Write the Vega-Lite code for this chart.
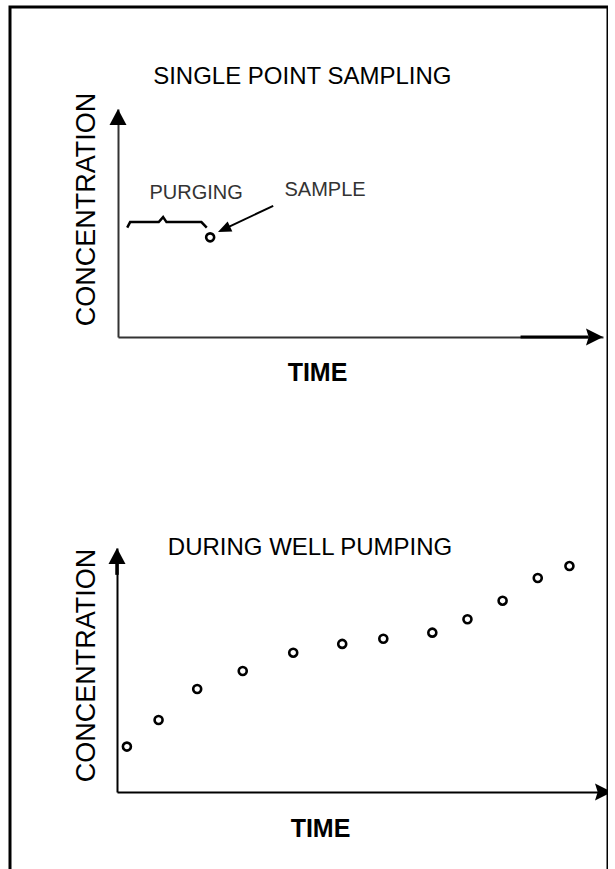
{
  "$schema": "https://vega.github.io/schema/vega-lite/v6.json",
  "width": 598,
  "height": 900,
  "padding": {"left": 10, "top": 7, "right": 0, "bottom": 0},
  "autosize": {"type": "none"},
  "background": "white",
  "config": {
    "view": {"stroke": "black", "strokeWidth": 3},
    "font": "Liberation Sans",
    "text": {"font": "Liberation Sans"}
  },
  "datasets": {
    "one": [{}],
    "sample": [{"time": 1.9, "conc": 4.37}],
    "pumping": [
      {"time": 0.2, "conc": 1.86},
      {"time": 0.84, "conc": 2.95},
      {"time": 1.62, "conc": 4.22},
      {"time": 2.54, "conc": 4.96},
      {"time": 3.56, "conc": 5.71},
      {"time": 4.55, "conc": 6.07},
      {"time": 5.38, "conc": 6.28},
      {"time": 6.37, "conc": 6.53},
      {"time": 7.08, "conc": 7.08},
      {"time": 7.79, "conc": 7.84},
      {"time": 8.5, "conc": 8.77},
      {"time": 9.14, "conc": 9.26}
    ],
    "brace": [
      {"i": 0, "time": 0.19, "conc": 4.8},
      {"i": 1, "time": 0.25, "conc": 5.04},
      {"i": 2, "time": 0.84, "conc": 5.04},
      {"i": 3, "time": 0.93, "conc": 5.26},
      {"i": 4, "time": 1.0, "conc": 5.04},
      {"i": 5, "time": 1.72, "conc": 5.04},
      {"i": 6, "time": 1.83, "conc": 4.8}
    ]
  },
  "layer": [
    {
      "layer": [
        {
          "data": {"name": "sample"},
          "mark": {"type": "point", "shape": "circle", "filled": false, "stroke": "black", "strokeWidth": 2.6, "size": 64, "opacity": 1},
          "encoding": {
            "x": {"field": "time", "type": "quantitative",
              "scale": {"domain": [0, 10], "range": [108, 593], "zero": false, "nice": false},
              "axis": {"orient": "bottom", "offset": -570, "domain": true, "domainColor": "#333", "domainWidth": 2, "ticks": false, "labels": false, "grid": false,
                "title": "TIME", "titleFont": "Liberation Sans", "titleFontSize": 25, "titleFontWeight": "bold", "titleColor": "black",
                "titleX": 307, "titleY": 35, "titleAlign": "center", "titleBaseline": "middle"}},
            "y": {"field": "conc", "type": "quantitative",
              "scale": {"domain": [0, 10], "range": [330, 102], "zero": false, "nice": false},
              "axis": {"orient": "left", "offset": -108, "domain": true, "domainColor": "#333", "domainWidth": 2, "ticks": false, "labels": false, "grid": false,
                "title": "CONCENTRATION", "titleFont": "Liberation Sans", "titleFontSize": 27, "titleFontWeight": "normal", "titleColor": "black",
                "titleAngle": -90, "titleX": -32, "titleY": 202, "titleAlign": "center", "titleBaseline": "middle"}}
          }
        },
        {
          "data": {"name": "brace"},
          "mark": {"type": "line", "color": "black", "strokeWidth": 2.5, "interpolate": "linear"},
          "encoding": {
            "x": {"field": "time", "type": "quantitative"},
            "y": {"field": "conc", "type": "quantitative"},
            "order": {"field": "i", "type": "quantitative"}
          }
        },
        {
          "data": {"name": "one"},
          "mark": {"type": "rule", "color": "black", "strokeWidth": 2},
          "encoding": {
            "x": {"datum": 3.2, "type": "quantitative"},
            "y": {"datum": 5.75, "type": "quantitative"},
            "x2": {"datum": 2.25},
            "y2": {"datum": 4.8}
          }
        },
        {
          "data": {"name": "one"},
          "mark": {"type": "point", "shape": "M0,0L-0.75,1.8L0.75,1.8Z", "filled": true, "color": "black", "size": 220, "angle": 245, "opacity": 1, "strokeWidth": 0},
          "encoding": {
            "x": {"datum": 2.06, "type": "quantitative"},
            "y": {"datum": 4.6, "type": "quantitative"}
          }
        },
        {
          "data": {"name": "one"},
          "mark": {"type": "rule", "color": "black", "strokeWidth": 3},
          "encoding": {
            "x": {"datum": 8.3, "type": "quantitative"},
            "x2": {"datum": 9.7},
            "y": {"datum": 0, "type": "quantitative"}
          }
        },
        {
          "data": {"name": "one"},
          "mark": {"type": "point", "shape": "M0,0L-0.95,1.8L0.95,1.8Z", "filled": true, "color": "black", "size": 320, "angle": 0, "opacity": 1, "strokeWidth": 0},
          "encoding": {
            "x": {"datum": 0, "type": "quantitative"},
            "y": {"datum": 10, "type": "quantitative"}
          }
        },
        {
          "data": {"name": "one"},
          "mark": {"type": "point", "shape": "M0,0L-0.95,1.9L0,1.6L0.95,1.9Z", "filled": true, "color": "black", "size": 320, "angle": 90, "opacity": 1, "strokeWidth": 0},
          "encoding": {
            "x": {"datum": 10, "type": "quantitative"},
            "y": {"datum": 0, "type": "quantitative"}
          }
        },
        {
          "data": {"name": "one"},
          "mark": {"type": "text", "text": "SINGLE POINT SAMPLING", "fontSize": 24, "color": "black", "align": "center", "baseline": "middle"},
          "encoding": {
            "x": {"datum": 3.8, "type": "quantitative"},
            "y": {"datum": 11.4, "type": "quantitative"}
          }
        },
        {
          "data": {"name": "one"},
          "mark": {"type": "text", "text": "PURGING", "fontSize": 20, "color": "#333", "align": "center", "baseline": "middle"},
          "encoding": {
            "x": {"datum": 1.61, "type": "quantitative"},
            "y": {"datum": 6.32, "type": "quantitative"}
          }
        },
        {
          "data": {"name": "one"},
          "mark": {"type": "text", "text": "SAMPLE", "fontSize": 20, "color": "#333", "align": "center", "baseline": "middle"},
          "encoding": {
            "x": {"datum": 4.27, "type": "quantitative"},
            "y": {"datum": 6.45, "type": "quantitative"}
          }
        }
      ]
    },
    {
      "layer": [
        {
          "data": {"name": "pumping"},
          "mark": {"type": "point", "shape": "circle", "filled": false, "stroke": "black", "strokeWidth": 2.6, "size": 64, "opacity": 1},
          "encoding": {
            "x": {"field": "time", "type": "quantitative",
              "scale": {"domain": [0, 10], "range": [107, 602], "zero": false, "nice": false},
              "axis": {"orient": "bottom", "offset": -115, "domain": true, "domainColor": "black", "domainWidth": 2, "ticks": false, "labels": false, "grid": false,
                "title": "TIME", "titleFont": "Liberation Sans", "titleFontSize": 25, "titleFontWeight": "bold", "titleColor": "black",
                "titleX": 310, "titleY": 36, "titleAlign": "center", "titleBaseline": "middle"}},
            "y": {"field": "conc", "type": "quantitative",
              "scale": {"domain": [0, 10], "range": [785, 541], "zero": false, "nice": false},
              "axis": {"orient": "left", "offset": -107, "domain": true, "domainColor": "black", "domainWidth": 2, "ticks": false, "labels": false, "grid": false,
                "title": "CONCENTRATION", "titleFont": "Liberation Sans", "titleFontSize": 27, "titleFontWeight": "normal", "titleColor": "black",
                "titleAngle": -90, "titleX": -31, "titleY": 658, "titleAlign": "center", "titleBaseline": "middle"}}
          }
        },
        {
          "data": {"name": "one"},
          "mark": {"type": "rule", "color": "black", "strokeWidth": 3.5},
          "encoding": {
            "x": {"datum": 0, "type": "quantitative"},
            "y": {"datum": 8.9, "type": "quantitative"},
            "y2": {"datum": 9.6}
          }
        },
        {
          "data": {"name": "one"},
          "mark": {"type": "point", "shape": "M0,0L-0.95,1.8L0.95,1.8Z", "filled": true, "color": "black", "size": 320, "angle": 0, "opacity": 1, "strokeWidth": 0},
          "encoding": {
            "x": {"datum": 0, "type": "quantitative"},
            "y": {"datum": 10, "type": "quantitative"}
          }
        },
        {
          "data": {"name": "one"},
          "mark": {"type": "point", "shape": "M0,0L-0.95,1.9L0,1.6L0.95,1.9Z", "filled": true, "color": "black", "size": 320, "angle": 90, "opacity": 1, "strokeWidth": 0},
          "encoding": {
            "x": {"datum": 10, "type": "quantitative"},
            "y": {"datum": 0, "type": "quantitative"}
          }
        },
        {
          "data": {"name": "one"},
          "mark": {"type": "text", "text": "DURING WELL PUMPING", "fontSize": 24, "color": "black", "align": "center", "baseline": "middle"},
          "encoding": {
            "x": {"datum": 3.9, "type": "quantitative"},
            "y": {"datum": 10.0, "type": "quantitative"}
          }
        }
      ]
    }
  ],
  "resolve": {"scale": {"x": "independent", "y": "independent"}, "axis": {"x": "independent", "y": "independent"}}
}
